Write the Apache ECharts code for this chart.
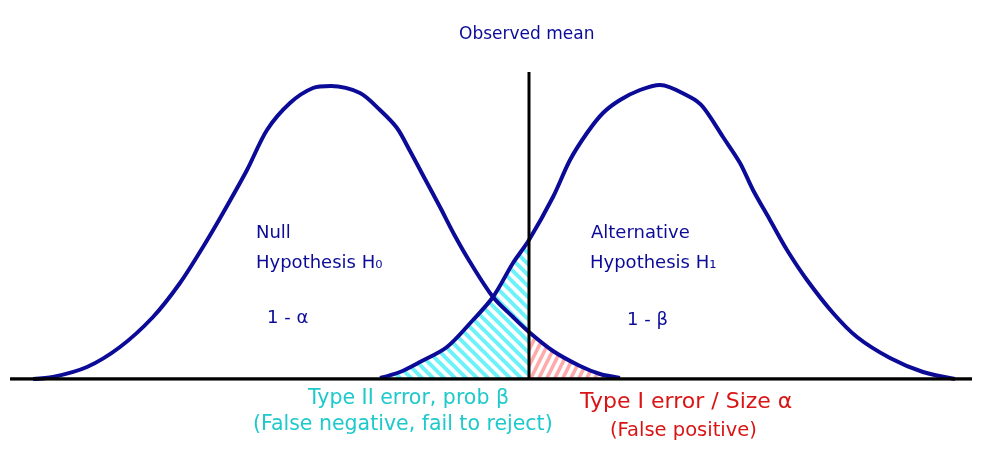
<!DOCTYPE html>
<html>
<head>
<meta charset="utf-8">
<script src="https://cdn.jsdelivr.net/npm/echarts@6/dist/echarts.min.js"></script>
<style>
  html, body { margin: 0; padding: 0; background: #ffffff; }
  #chart { width: 986px; height: 455px; }
</style>
</head>
<body>
<div id="chart"></div>
<script>
// ---- Data (x position, curve height above the baseline) ----
const nullX = [33, 53, 87, 120, 153, 180, 203, 223, 247, 267, 290, 313, 331, 360, 380, 397, 410, 425, 440, 455, 470, 493, 513, 529, 553, 580, 600, 620];
const nullH = [0, 2, 12, 32, 62, 96, 132, 166, 209, 249, 276, 291, 293, 286, 269, 251, 228, 200, 172, 143, 117, 82, 62, 47, 28, 13, 5, 1];

const altX = [380, 400, 420, 447, 473, 493, 513, 529, 553, 570, 587, 603, 620, 640, 660, 690, 703, 723, 740, 753, 770, 787, 807, 833, 857, 890, 923, 955];
const altH = [1, 7, 17, 32, 59, 82, 116, 139, 182, 219, 246, 266, 279, 289, 294, 282, 272, 242, 216, 189, 159, 129, 99, 66, 42, 21, 7, 0];

const observedMean = 529;       // position of the observed-mean line
const observedTop = 307;        // height of that line
const baselineX = [10, 972];    // extent of the horizontal axis line

// ---- Labels ----
const titleText = 'Observed mean';
const nullLabel = ['Null', 'Hypothesis H\u2080', '1 - \u03b1'];
const altLabel = ['Alternative', 'Hypothesis H\u2081', '1 - \u03b2'];
const type2Label = ['Type II error, prob \u03b2', '(False negative, fail to reject)'];
const type1Label = ['Type I error / Size \u03b1', '(False positive)'];

// ---- Build series data ----
const nullData = nullX.map((x, i) => [x, nullH[i]]);
const altData = altX.map((x, i) => [x, altH[i]]);
const betaRegion = altData.filter(p => p[0] <= observedMean);
const alphaRegion = nullData.filter(p => p[0] >= observedMean);

function hatch(w, h, color, lw, dir) {
  const c = document.createElement('canvas');
  c.width = w; c.height = h;
  const ctx = c.getContext('2d');
  ctx.strokeStyle = color;
  ctx.lineWidth = lw;
  ctx.lineCap = 'butt';
  for (const o of [-w, 0, w]) {
    ctx.beginPath();
    if (dir === 'back') {
      ctx.moveTo(o - 2, -2 * h / w);
      ctx.lineTo(o + w + 2, h + 2 * h / w);
    } else {
      ctx.moveTo(o - 1, h + 2);
      ctx.lineTo(o + w + 1, -2);
    }
    ctx.stroke();
  }
  return c;
}
const cyanPattern = { image: hatch(11, 11, '#6ef2fa', 4, 'back'), repeat: 'repeat' };
const pinkPattern = { image: hatch(8, 16, '#ffaaaa', 3.5, 'fwd'), repeat: 'repeat' };

const NAVY = '#0b0b98';
const CYAN = '#1ec9cc';
const RED = '#d91414';
const FONT = '"DejaVu Sans", "Noto Sans", sans-serif';

function txt(x, y, s, color, size) {
  return {
    type: 'text', x: x, y: y, silent: true,
    style: { text: s, fill: color, font: size + 'px ' + FONT, textAlign: 'left', textVerticalAlign: 'middle' }
  };
}

const chart = echarts.init(document.getElementById('chart'), null, { renderer: 'canvas' });
chart.setOption({
  animation: false,
  backgroundColor: '#ffffff',
  grid: { left: 0, right: 0, top: 0, bottom: 76 },
  xAxis: { type: 'value', min: 0, max: 986, show: false },
  yAxis: { type: 'value', min: 0, max: 379, show: false },
  series: [
    {
      name: 'Type II region', type: 'line', data: betaRegion, smooth: 0.3, symbol: 'none',
      lineStyle: { width: 0 }, areaStyle: { color: cyanPattern, opacity: 1 }, z: 1
    },
    {
      name: 'Type I region', type: 'line', data: alphaRegion, smooth: 0.3, symbol: 'none',
      lineStyle: { width: 0 }, areaStyle: { color: pinkPattern, opacity: 1 }, z: 1
    },
    {
      name: 'Null', type: 'line', data: nullData, smooth: 0.3, symbol: 'none',
      lineStyle: { color: NAVY, width: 4 }, z: 3
    },
    {
      name: 'Alternative', type: 'line', data: altData, smooth: 0.3, symbol: 'none',
      lineStyle: { color: NAVY, width: 4 }, z: 3
    },
    {
      name: 'Baseline', type: 'line', data: baselineX.map(x => [x, 0]), symbol: 'none',
      lineStyle: { color: '#000000', width: 3.5 }, z: 4
    },
    {
      name: 'Observed mean', type: 'line', data: [[observedMean, 0], [observedMean, observedTop]], symbol: 'none',
      lineStyle: { color: '#000000', width: 3 }, z: 4
    }
  ],
  graphic: [
    txt(459, 35, titleText, NAVY, 17),
    txt(256, 233, nullLabel[0], NAVY, 18),
    txt(256, 263, nullLabel[1], NAVY, 18),
    txt(267, 318, nullLabel[2], NAVY, 18),
    txt(591, 233, altLabel[0], NAVY, 18),
    txt(590, 263, altLabel[1], NAVY, 18),
    txt(627, 320, altLabel[2], NAVY, 18),
    txt(308, 399, type2Label[0], CYAN, 20.5),
    txt(253, 425, type2Label[1], CYAN, 20.5),
    txt(580, 402, type1Label[0], RED, 22),
    txt(610, 431, type1Label[1], RED, 19.5)
  ]
});
</script>
</body>
</html>
